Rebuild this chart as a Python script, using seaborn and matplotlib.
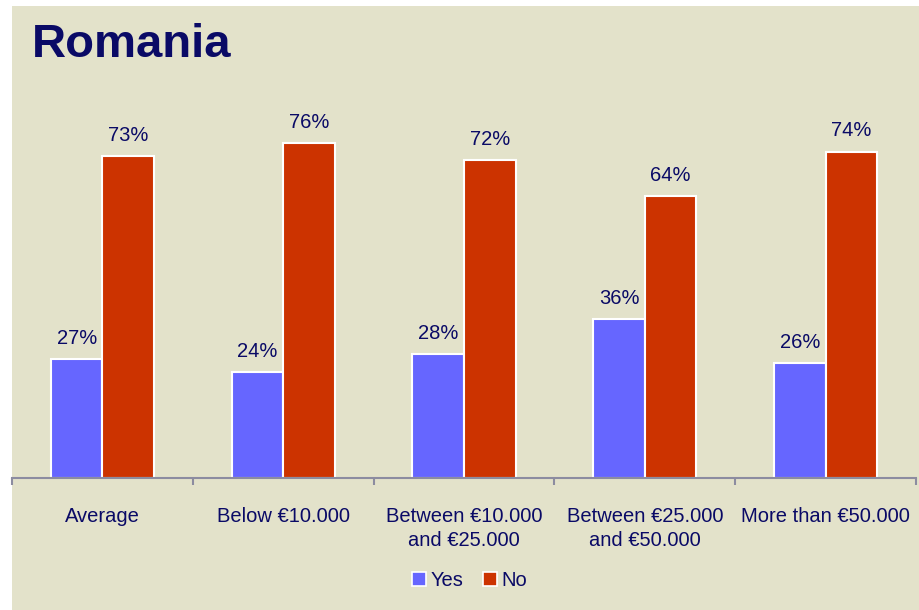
import pandas as pd
import matplotlib.pyplot as plt
import matplotlib.patches as mpatches
from matplotlib.lines import Line2D
import seaborn as sns

categories = ['Average', 'Below €10.000', 'Between €10.000\nand €25.000',
              'Between €25.000\nand €50.000', 'More than €50.000']
yes_vals = [27, 24, 28, 36, 26]
no_vals = [73, 76, 72, 64, 74]
series = ['Yes', 'No']
colors = {'Yes': '#6666FF', 'No': '#CC3300'}

df = pd.DataFrame({
    'category': categories * 2,
    'answer': ['Yes'] * len(categories) + ['No'] * len(categories),
    'value': yes_vals + no_vals,
})

sns.set_style('white')
plt.rcParams['font.family'] = ['Liberation Sans', 'DejaVu Sans']
navy = '#0A0A66'
bg = '#E3E2CA'

fig = plt.figure(figsize=(9.2, 6.1), dpi=100)
fig.patch.set_facecolor('white')
fig.patches.append(mpatches.Rectangle((12 / 920, 0), 1, (610 - 6) / 610,
                                      transform=fig.transFigure,
                                      facecolor=bg, edgecolor='none', zorder=-10))

ax = fig.add_axes([12 / 920, (610 - 478) / 610, 904 / 920, (478 - 81) / 610])
ax.set_facecolor('none')

sns.barplot(data=df, x='category', y='value', hue='answer', hue_order=series,
            palette=colors, saturation=1, width=0.57, edgecolor='white',
            linewidth=1.5, ax=ax, legend=False)

for cont in ax.containers:
    ax.bar_label(cont, labels=[f'{int(v)}%' for v in cont.datavalues],
                 padding=8, fontsize=14.5, color=navy)

ax.set_ylim(0, 90)
ax.set_xlim(-0.5, 4.5)
ax.set_xlabel('')
ax.set_ylabel('')
ax.set_yticks([])
ax.set_xticks(range(len(categories)))
ax.set_xticklabels(categories, fontsize=14.5, color=navy, linespacing=1.3)
ax.tick_params(axis='x', which='major', length=0, pad=21)
ax.set_xticks([i - 0.5 for i in range(len(categories) + 1)], minor=True)
ax.tick_params(axis='x', which='minor', bottom=True, length=5, width=1.5,
               color='#8C8CA0', direction='out')
for s in ['top', 'right', 'left']:
    ax.spines[s].set_visible(False)
ax.spines['bottom'].set_color('#8C8CA0')
ax.spines['bottom'].set_linewidth(1.5)

fig.text(32 / 920, 1 - 45 / 610, 'Romania', fontsize=34, fontweight='bold',
         color=navy, va='center', ha='left')

handles = [Line2D([], [], marker='s', linestyle='none', markersize=10,
                  markerfacecolor=colors[s], markeredgecolor='white',
                  markeredgewidth=1.2, label=s) for s in series]
fig.legend(handles=handles, loc='center', bbox_to_anchor=(470 / 920, 29 / 610),
           ncol=2, frameon=False, fontsize=14.5, handlelength=0.6,
           handletextpad=0.3, columnspacing=1.0, labelcolor=navy)

fig.savefig('out.png', dpi=100, facecolor=fig.get_facecolor())
